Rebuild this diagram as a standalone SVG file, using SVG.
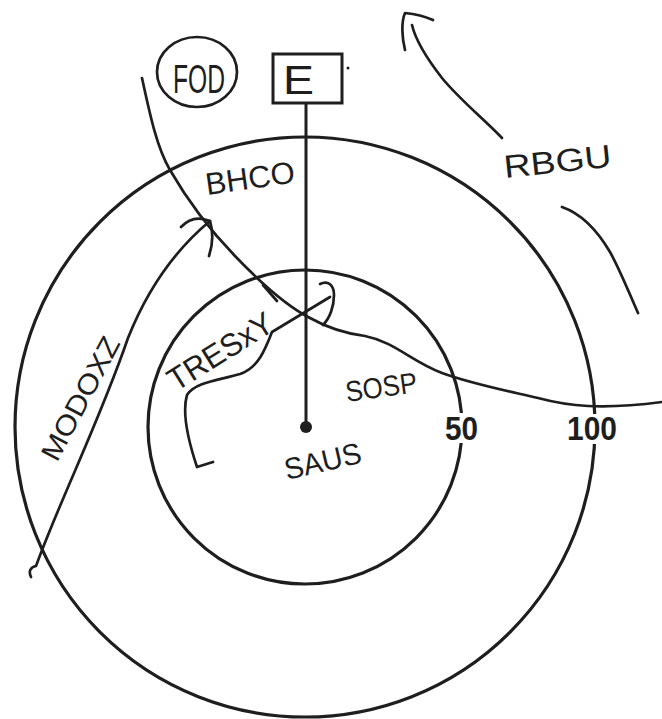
<svg xmlns="http://www.w3.org/2000/svg" width="662" height="719" viewBox="0 0 662 719">
<style>
.ln{fill:none;stroke:#1e1e1e;stroke-width:2.7;stroke-linecap:round;stroke-linejoin:round}
.ring{fill:none;stroke:#1e1e1e;stroke-width:3.2}
.hw{font-family:"Liberation Sans","DejaVu Sans",sans-serif;fill:#1e1e1e;font-weight:normal}
.num{font-family:"Liberation Sans","Arial",sans-serif;font-weight:bold;fill:#1e1e1e}
</style>
<rect width="662" height="719" fill="#ffffff"/>
<g id="ring-outer"><circle class="ring" cx="305" cy="427" r="290"/></g>
<g id="ring-inner"><circle class="ring" cx="305" cy="427" r="157"/></g>
<g id="connectors">
  <path class="ln" d="M306,103 L306,427" style="stroke-width:3"/>
  <path class="ln" d="M142,78 C150,115 157,148 170,170 C185,196 205,225 235,256 C258,280 285,305 310,318 C326,327 342,333 365,336 C395,342 412,362 442,373 C472,384 508,391 538,398 C568,406 600,410 662,402"/>
  <path class="ln" d="M263,285 L277,301"/>
  <path class="ln" d="M31,577 C28,571 31,567 36,566 C60,500 100,420 128,338 C148,288 175,250 210,221"/>
  <path class="ln" d="M181,227 Q193,214 210,221 Q215,238 209,256"/>
  <path class="ln" d="M330,297 L272,332 C265,350 258,368 240,374 C220,380 195,382 187,395 C182,412 188,440 197,467 L213,462"/>
  <path class="ln" d="M320,284 C328,280 334,285 334,295 C334,306 330,318 323,325"/>
  <path class="ln" d="M502,138 C485,120 460,100 442,78 C428,60 416,42 412,25"/>
  <path class="ln" d="M405,50 C402,38 401,22 405,13 C415,14 424,16 433,20"/>
  <path class="ln" d="M562,207 C585,215 600,235 610,252 C620,270 630,295 638,313"/>
</g>
<g id="node-E">
  <rect x="273" y="54" width="69" height="49" fill="#ffffff" stroke="#1e1e1e" stroke-width="3"/>
  <text class="hw" x="283" y="94" font-size="40" textLength="31" lengthAdjust="spacingAndGlyphs">E</text>
  <circle cx="348" cy="68" r="1.5" fill="#1e1e1e"/>
</g>
<g id="node-FOD">
  <ellipse cx="197" cy="72" rx="40" ry="35" fill="none" stroke="#1e1e1e" stroke-width="2.7"/>
  <text class="hw" x="173" y="93" font-size="41" textLength="52" lengthAdjust="spacingAndGlyphs">FOD</text>
</g>
<g id="node-center">
  <circle cx="306" cy="427" r="6" fill="#1e1e1e"/>
  <text class="hw" x="287" y="480" font-size="30" textLength="78" lengthAdjust="spacingAndGlyphs" transform="rotate(-13 287 480)">SAUS</text>
</g>
<g id="labels">
  <text class="hw" x="207" y="195" font-size="31" textLength="90" lengthAdjust="spacingAndGlyphs" transform="rotate(-8 207 195)">BHCO</text>
  <text class="hw" x="347" y="402" font-size="29" textLength="72" lengthAdjust="spacingAndGlyphs" transform="rotate(-8 347 402)">SOSP</text>
  <text class="hw" x="176" y="392" font-size="32" textLength="118" lengthAdjust="spacingAndGlyphs" transform="rotate(-32 176 392)">TRESxY</text>
  <text class="hw" x="57" y="463" font-size="28" textLength="136" lengthAdjust="spacingAndGlyphs" transform="rotate(-62 57 463)">MODOXZ</text>
  <text class="hw" x="505" y="178" font-size="32" textLength="108" lengthAdjust="spacingAndGlyphs" transform="rotate(-6 505 178)">RBGU</text>
</g>
<g id="scale-labels">
  <rect x="443" y="413" width="37" height="30" fill="#ffffff"/>
  <text class="num" x="445" y="440" font-size="34" textLength="33" lengthAdjust="spacingAndGlyphs">50</text>
  <rect x="565" y="414" width="54" height="30" fill="#ffffff"/>
  <text class="num" x="567" y="440" font-size="34" textLength="50" lengthAdjust="spacingAndGlyphs">100</text>
</g>
</svg>
